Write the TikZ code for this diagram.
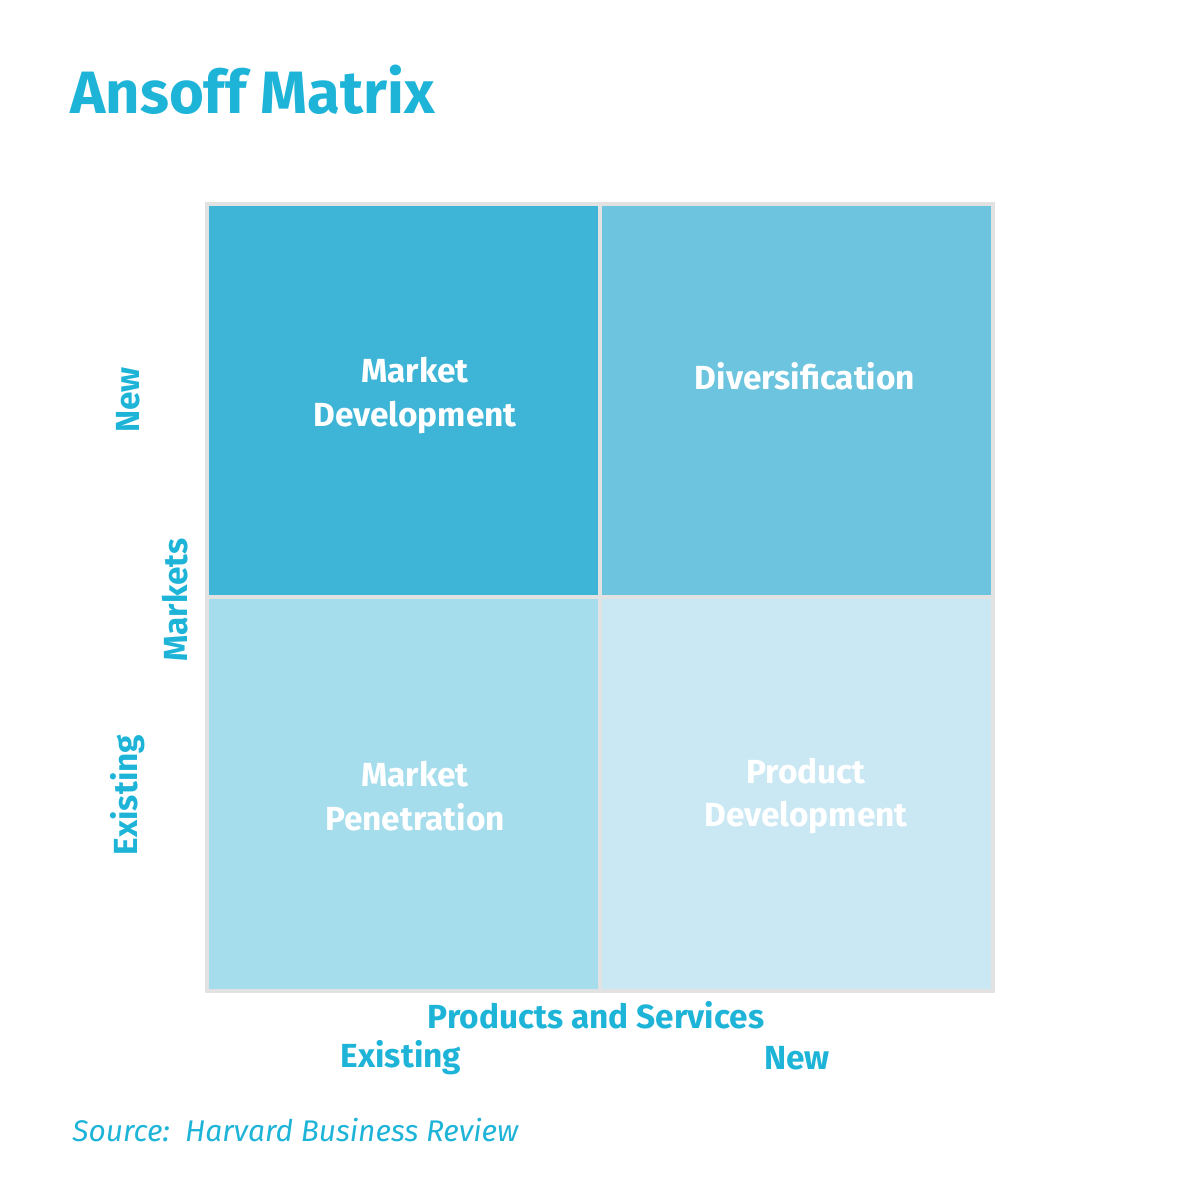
\documentclass[tikz,border=0pt]{standalone}
\usepackage{fontspec}
\setmainfont{Fira Sans}
\definecolor{hbrblue}{HTML}{1EB4D8}
\definecolor{cellA}{HTML}{3EB5D6}
\definecolor{cellB}{HTML}{6CC4DE}
\definecolor{cellC}{HTML}{A6DDEC}
\definecolor{cellD}{HTML}{CAE8F3}
\definecolor{gridgray}{HTML}{E2E2E2}
\begin{document}
\begin{tikzpicture}[x=0.01cm,y=-0.01cm]
        \tikzset{celltext/.style={text=white,font=\fontsize{9.5}{12.5}\selectfont\bfseries,align=center},
                 axis/.style={text=hbrblue,font=\fontsize{9.5}{12}\selectfont\bfseries}}
        \useasboundingbox (0,0) rectangle (1200,1200);
        \node [anchor=west,text=hbrblue,font=\fontsize{17}{20}\selectfont\bfseries] (title) at (58,90) {Ansoff Matrix};
        % cells
        \fill [cellA] (207,204) rectangle (600,597);
        \fill [cellB] (600,204) rectangle (993,597);
        \fill [cellC] (207,597) rectangle (600,991);
        \fill [cellD] (600,597) rectangle (993,991);
        \draw [gridgray,line width=1.2pt] (207,204) rectangle (993,991);
        \draw [gridgray,line width=1.2pt] (600,204) -- (600,991);
        \draw [gridgray,line width=1.2pt] (207,597) -- (993,597);
        \node [celltext] (md) at (415,396) {Market\\Development};
        \node [celltext] (dv) at (805,376) {Diversification};
        \node [celltext] (mp) at (415,796) {Market\\Penetration};
        \node [celltext] (pd) at (806,796) {Product\\Development};
        % axes
        \node [axis,rotate=90] (mk) at (175,600) {Markets};
        \node [axis,rotate=90] (mnew) at (128,400) {New};
        \node [axis,rotate=90] (mold) at (128,795) {Existing};
        \node [axis] (ps) at (596,1015) {Products and Services};
        \node [axis] (pold) at (401,1058) {Existing};
        \node [axis] (pnew) at (797,1058) {New};
        \node [anchor=west,text=hbrblue,font=\fontsize{8.5}{10}\selectfont\itshape] (src) at (60,1130) {Source:\ \ Harvard Business Review};
    \end{tikzpicture}
\end{document}
